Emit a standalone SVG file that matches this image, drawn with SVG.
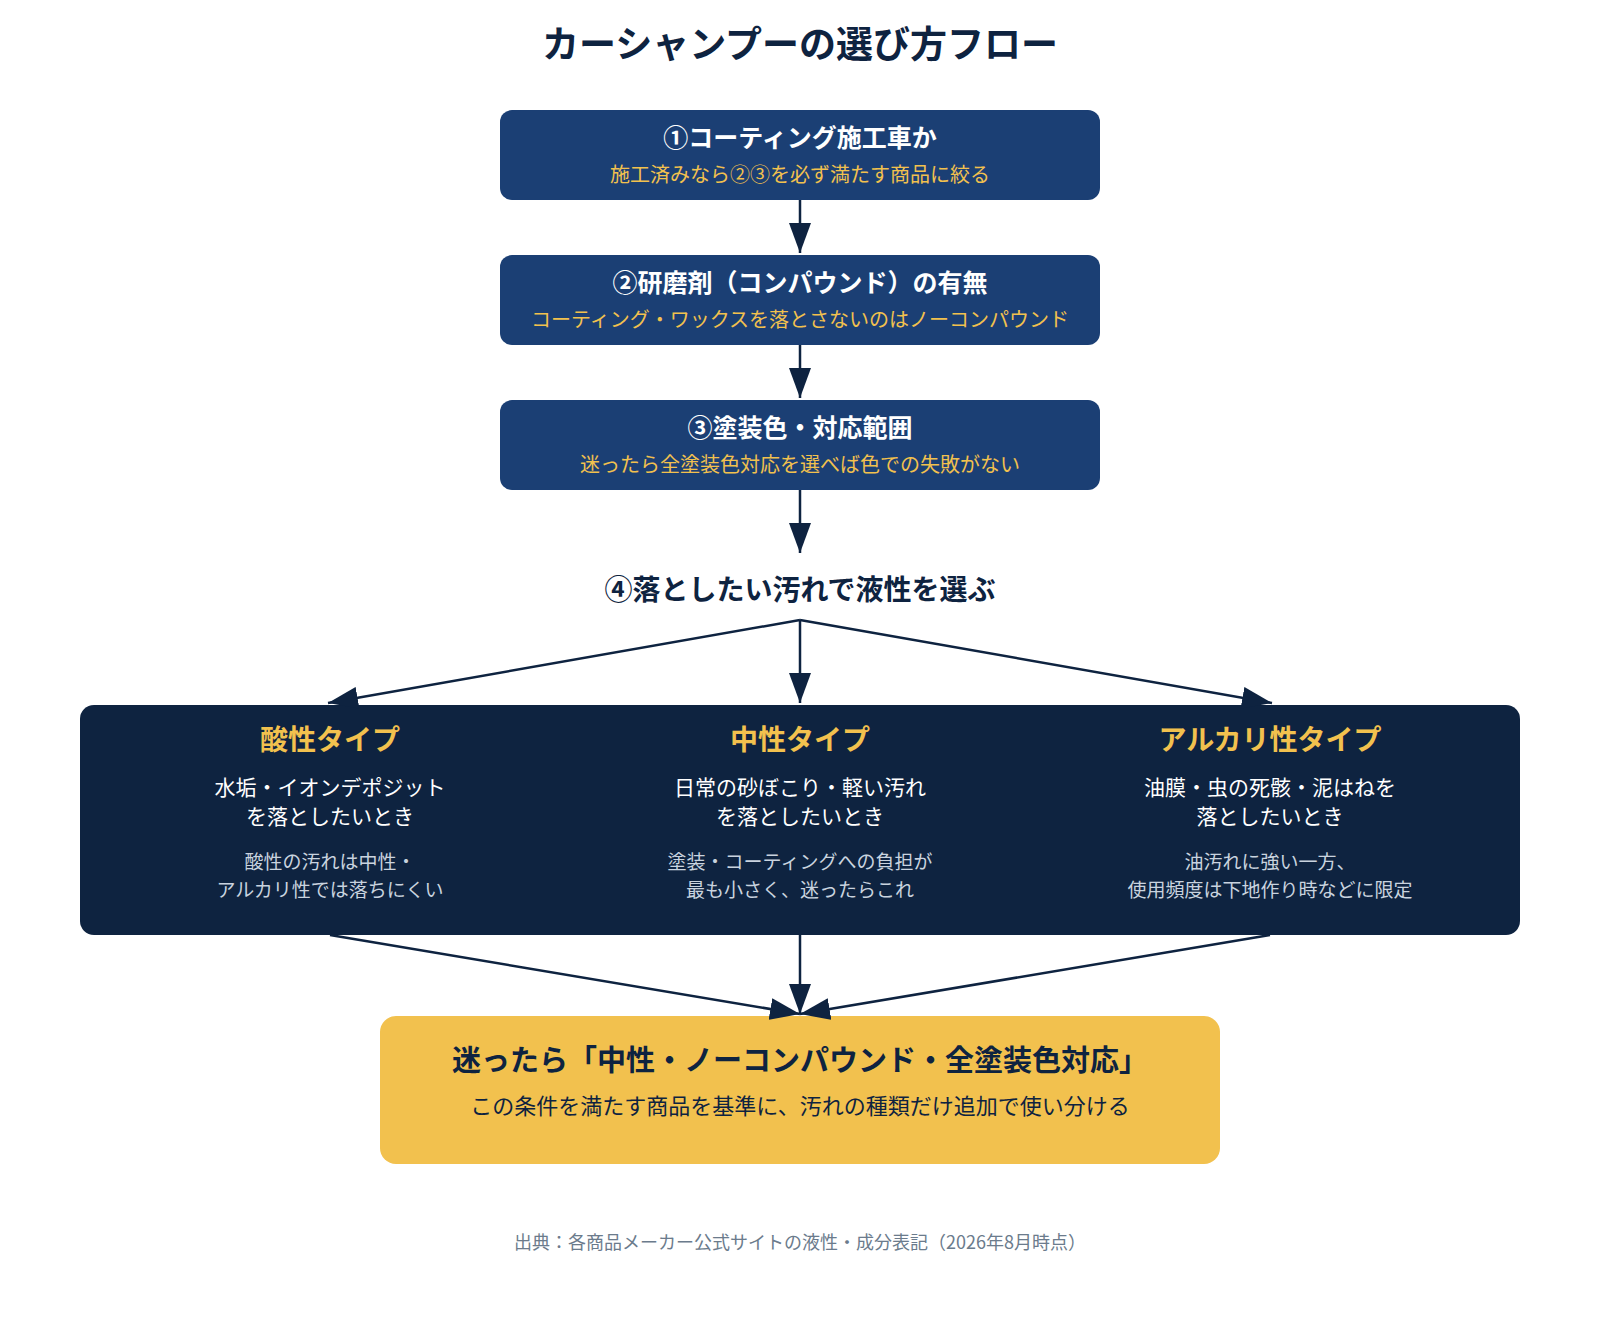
<svg xmlns="http://www.w3.org/2000/svg" width="1600" height="1320" viewBox="0 0 1600 1320">
<style>
text{font-family:"Noto Sans CJK JP","Noto Sans",sans-serif;text-anchor:middle}
.h{font-size:25px;font-weight:bold;fill:#fff}
.s{font-size:20px;fill:#f2c14e}
.ch{font-size:28px;font-weight:bold;fill:#f2c14e}
.c1{font-size:21px;fill:#fff}
.c2{font-size:19px;fill:#c9d3df}
.ln{stroke:#0e2340;stroke-width:2.5;fill:none}
</style>
<defs><marker id="a" markerWidth="12" markerHeight="12" refX="11" refY="6" orient="auto" markerUnits="userSpaceOnUse" viewBox="0 0 12 12"><path d="M0,0 L12,6 L0,12 z" fill="#0e2340"/></marker>
<marker id="b" markerWidth="30" markerHeight="22" refX="30" refY="11" orient="auto" markerUnits="userSpaceOnUse"><path d="M0,0 L30,11 L0,22 z" fill="#0e2340"/></marker></defs>
<rect width="1600" height="1320" fill="#fff"/>
<text x="800" y="58" style="font-size:37px;font-weight:bold;fill:#0e2340">カーシャンプーの選び方フロー</text>
<g id="n1"><rect x="500" y="110" width="600" height="90" rx="12" fill="#1b3f74"/><text class="h" x="800" y="147">①コーティング施工車か</text><text class="s" x="800" y="182">施工済みなら②③を必ず満たす商品に絞る</text></g>
<g id="n2"><rect x="500" y="255" width="600" height="90" rx="12" fill="#1b3f74"/><text class="h" x="800" y="292">②研磨剤（コンパウンド）の有無</text><text class="s" x="800" y="327">コーティング・ワックスを落とさないのはノーコンパウンド</text></g>
<g id="n3"><rect x="500" y="400" width="600" height="90" rx="12" fill="#1b3f74"/><text class="h" x="800" y="437">③塗装色・対応範囲</text><text class="s" x="800" y="472">迷ったら全塗装色対応を選べば色での失敗がない</text></g>
<g id="n4"><text x="800" y="600" style="font-size:28px;font-weight:bold;fill:#0e2340">④落としたい汚れで液性を選ぶ</text></g>
<g id="n5"><rect x="80" y="705" width="1440" height="230" rx="14" fill="#0e2340"/>
<text class="ch" x="330" y="750">酸性タイプ</text><text class="c1" x="330" y="795">水垢・イオンデポジット</text><text class="c1" x="330" y="824">を落としたいとき</text><text class="c2" x="330" y="869">酸性の汚れは中性・</text><text class="c2" x="330" y="897">アルカリ性では落ちにくい</text>
<text class="ch" x="800" y="750">中性タイプ</text><text class="c1" x="800" y="795">日常の砂ぼこり・軽い汚れ</text><text class="c1" x="800" y="824">を落としたいとき</text><text class="c2" x="800" y="869">塗装・コーティングへの負担が</text><text class="c2" x="800" y="897">最も小さく、迷ったらこれ</text>
<text class="ch" x="1270" y="750">アルカリ性タイプ</text><text class="c1" x="1270" y="795">油膜・虫の死骸・泥はねを</text><text class="c1" x="1270" y="824">落としたいとき</text><text class="c2" x="1270" y="869">油汚れに強い一方、</text><text class="c2" x="1270" y="897">使用頻度は下地作り時などに限定</text></g>
<g id="n6"><rect x="380" y="1016" width="840" height="148" rx="16" fill="#f2c14e"/><text x="800" y="1071" style="font-size:29px;font-weight:bold;fill:#0e2340">迷ったら「中性・ノーコンパウンド・全塗装色対応」</text><text x="800" y="1114" style="font-size:22px;fill:#0e2340">この条件を満たす商品を基準に、汚れの種類だけ追加で使い分ける</text></g>
<text x="800" y="1249" style="font-size:18px;fill:#6b7b8c">出典：各商品メーカー公式サイトの液性・成分表記（2026年8月時点）</text>
<g id="connectors" class="ln">
<line x1="800" y1="200" x2="800" y2="253" marker-end="url(#b)"/>
<line x1="800" y1="345" x2="800" y2="398" marker-end="url(#b)"/>
<line x1="800" y1="490" x2="800" y2="553" marker-end="url(#b)"/>
<line x1="800" y1="620" x2="328" y2="703" marker-end="url(#b)"/>
<line x1="800" y1="620" x2="800" y2="703" marker-end="url(#b)"/>
<line x1="800" y1="620" x2="1272" y2="703" marker-end="url(#b)"/>
<line x1="330" y1="935" x2="800" y2="1014" marker-end="url(#b)"/>
<line x1="800" y1="935" x2="800" y2="1014" marker-end="url(#b)"/>
<line x1="1270" y1="935" x2="800" y2="1014" marker-end="url(#b)"/>
</g>
</svg>
